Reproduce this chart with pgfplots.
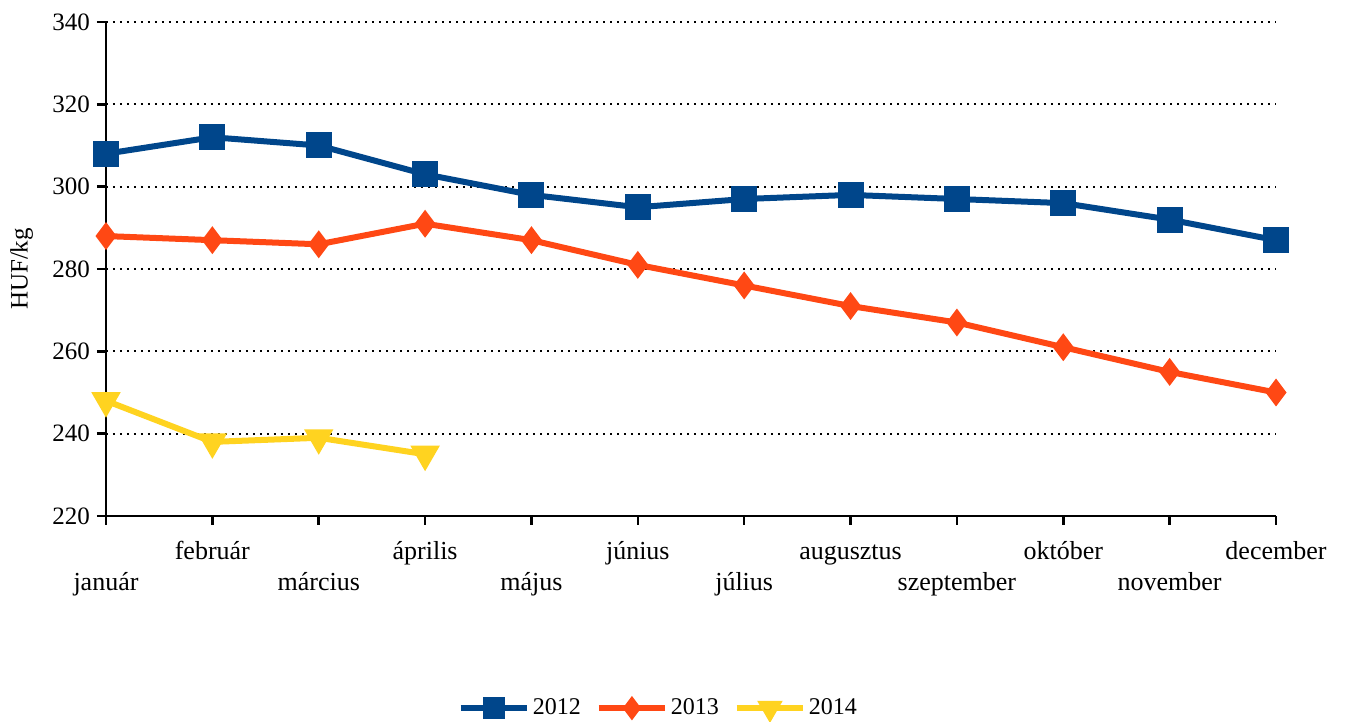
\documentclass[border=0pt]{standalone}
\usepackage{fontspec}
\setmainfont{Liberation Serif}
\usepackage{pgfplots}
\pgfplotsset{compat=1.18}
\definecolor{c12}{RGB}{0,70,139}
\definecolor{c13}{RGB}{255,72,20}
\definecolor{c14}{RGB}{255,211,32}
\begin{document}
\begin{tikzpicture}
\path[use as bounding box] (-53pt,-103pt) rectangle (619.5pt,258pt);
\begin{axis}[
  at={(0,0)}, anchor=south west,
  scale only axis, width=585pt, height=247pt,
  xmin=0, xmax=11, ymin=220, ymax=340,
  xtick={0,...,11}, ytick={220,240,...,340},
  axis x line*=bottom, axis y line*=left,
  axis line style={line width=1.3pt, -},
  tick align=outside,
  major tick length=4.5pt,
  every tick/.style={black, line width=1.3pt},
  ymajorgrids,
  major grid style={black, line width=1pt, dash pattern=on 1pt off 2.5pt},
  font=\fontsize{12.5}{15.5}\selectfont,
  /pgf/number format/assume math mode=true,
  xticklabel style={anchor=north, align=center, font=\fontsize{13}{15.5}\selectfont, yshift=-3pt},
  xticklabels={{\strut\\január},{\strut február},{\strut\\március},{\strut április},{\strut\\május},{\strut június},{\strut\\július},{\strut augusztus},{\strut\\szeptember},{\strut október},{\strut\\november},{\strut december}},
  yticklabel style={font=\fontsize{12.5}{14}\selectfont},
  ylabel={HUF/kg},
  ylabel style={font=\fontsize{12.5}{14}\selectfont, at={(axis description cs:-0.072,0.5)}, anchor=center},
  legend style={at={(0.4726,-0.389)}, anchor=center, draw=none, legend columns=3,
    font=\fontsize{12}{14}\selectfont,
    nodes={inner xsep=1.5pt},
    /tikz/every even column/.append style={column sep=6pt}},
  legend image code/.code={\draw[#1] (0pt,0pt) -- (33pt,0pt); \draw[#1, mark repeat=2, mark phase=2, every mark/.append style={scale=0.8}] plot coordinates {(0pt,0pt) (16.5pt,0pt) (33pt,0pt)};},
]
\addplot[c12, line width=3pt, mark=square*, mark size=5pt, mark options={solid}] coordinates {
(0,308) (1,312) (2,310) (3,303) (4,298) (5,295) (6,297) (7,298) (8,297) (9,296) (10,292) (11,287)};
\addlegendentry{2012}
\addplot[c13, line width=3pt, mark=diamond*, mark size=4.5pt, mark options={solid}] coordinates {
(0,288) (1,287) (2,286) (3,291) (4,287) (5,281) (6,276) (7,271) (8,267) (9,261) (10,255) (11,250)};
\addlegendentry{2013}
\addplot[c14, line width=3pt, mark=triangle*, mark size=5.5pt, mark options={solid, rotate=180}] coordinates {
(0,248) (1,238) (2,239) (3,235)};
\addlegendentry{2014}
\end{axis}
\end{tikzpicture}
\end{document}
